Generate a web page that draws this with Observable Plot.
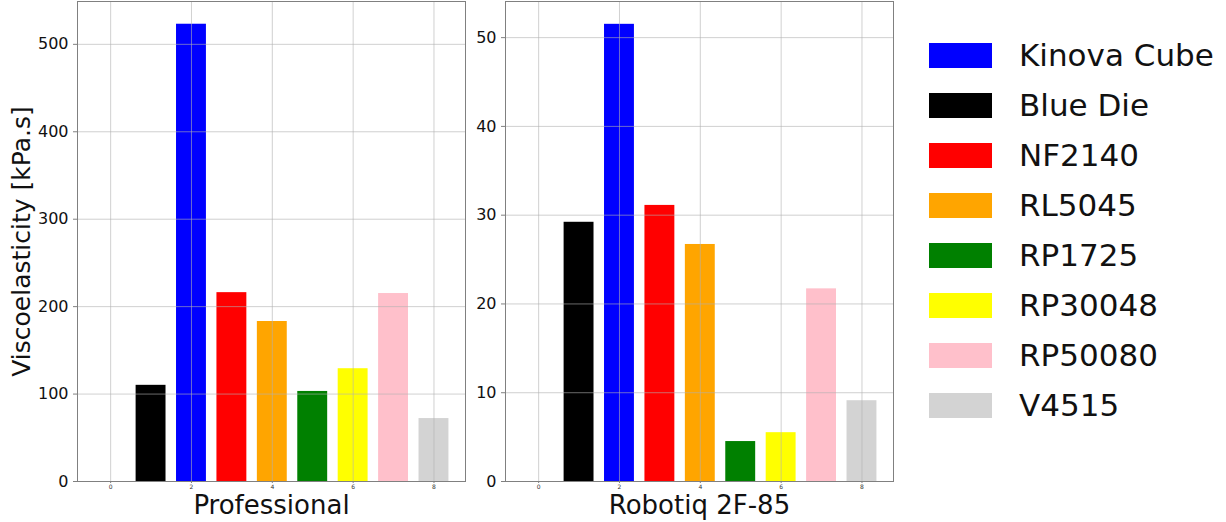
<!DOCTYPE html>
<html>
<head>
<meta charset="utf-8">
<script src="https://cdn.jsdelivr.net/npm/d3@7"></script>
<script src="https://cdn.jsdelivr.net/npm/@observablehq/plot@0.6"></script>
<style>
  html, body { margin: 0; padding: 0; background: white; }
  #fig { position: relative; width: 1226px; height: 522px; font-family: "DejaVu Sans", sans-serif; overflow: hidden; }
  .panel { position: absolute; top: 0; }
  #legend { position: absolute; left: 929px; top: 30px; }
  .row { display: flex; align-items: center; height: 50px; }
  .sw { width: 63px; height: 25px; margin-right: 27px; }
  .lab { font-size: 31px; color: #111; white-space: nowrap; }
</style>
</head>
<body>
<div id="fig">
  <div id="left" class="panel" style="left:0px"></div>
  <div id="right" class="panel" style="left:480px"></div>
  <div id="legend"></div>
</div>
<script>
// Bar order on the x axis (positions 1..8)
const materials = ["Blue Die", "Kinova Cube", "NF2140", "RL5045", "RP1725", "RP30048", "RP50080", "V4515"];
const colors    = ["black", "blue", "red", "orange", "green", "yellow", "pink", "lightgray"];
const positions = [1, 2, 3, 4, 5, 6, 7, 8];
// Viscoelasticity [kPa.s]
const professionalValues = [110, 523, 216, 183, 103, 129, 215, 72];
const robotiqValues      = [29.2, 51.5, 31.1, 26.7, 4.5, 5.5, 21.7, 9.1];
// Legend order
const legendOrder = ["Kinova Cube", "Blue Die", "NF2140", "RL5045", "RP1725", "RP30048", "RP50080", "V4515"];
// Tick labels
const xTicks = [0, 2, 4, 6, 8];
const profYTicks = [0, 100, 200, 300, 400, 500];
const robYTicks = [0, 10, 20, 30, 40, 50];

const barWidth = 0.74;

function rowsFor(values) {
  return materials.map((m, i) => ({material: m, pos: positions[i], value: values[i], color: colors[i]}));
}

function panel({values, yMax, yTicks, title, width, marginLeft, marginRight, ylabel}) {
  const rows = rowsFor(values);
  const marks = [
    Plot.rectY(rows, {x1: d => d.pos - barWidth / 2, x2: d => d.pos + barWidth / 2, y1: 0, y2: "value", fill: "color"}),
    Plot.gridX(xTicks, {stroke: "#b0b0b0", strokeOpacity: 0.6}),
    Plot.gridY(yTicks, {stroke: "#b0b0b0", strokeOpacity: 0.6}),
    Plot.frame({stroke: "#808080"}),
    Plot.axisX(xTicks, {fontSize: 6, tickSize: 2, tickPadding: 1.5, label: null, stroke: "#808080", fill: "#333"}),
    Plot.axisY(yTicks, {fontSize: 16, tickSize: 4, label: null, stroke: "#808080", fill: "#111"}),
    Plot.text([title], {text: d => d, frameAnchor: "bottom", lineAnchor: "middle", textAnchor: "middle", dy: 24, fontSize: 26, fill: "#111"})
  ];
  if (ylabel) {
    marks.push(Plot.text([ylabel], {text: d => d, frameAnchor: "left", lineAnchor: "middle", textAnchor: "middle", rotate: -90, dx: -56, fontSize: 25, fill: "#111"}));
  }
  return Plot.plot({
    width, height: 522,
    marginLeft, marginRight, marginTop: 1, marginBottom: 41,
    x: {domain: [-0.82, 8.78]},
    y: {domain: [0, yMax]},
    color: {type: "identity"},
    style: {fontFamily: "DejaVu Sans", background: "white", overflow: "visible"},
    marks
  });
}

document.getElementById("left").appendChild(panel({
  values: professionalValues, yMax: 549, yTicks: profYTicks, title: "Professional",
  width: 480, marginLeft: 77, marginRight: 15, ylabel: "Viscoelasticity [kPa.s]"
}));
document.getElementById("right").appendChild(panel({
  values: robotiqValues, yMax: 54.07, yTicks: robYTicks, title: "Robotiq 2F-85",
  width: 420, marginLeft: 25, marginRight: 7
}));

const legend = document.getElementById("legend");
for (const name of legendOrder) {
  const c = colors[materials.indexOf(name)];
  const row = document.createElement("div");
  row.className = "row";
  const sw = document.createElement("div");
  sw.className = "sw";
  sw.style.background = c;
  const lab = document.createElement("div");
  lab.className = "lab";
  lab.textContent = name;
  row.appendChild(sw);
  row.appendChild(lab);
  legend.appendChild(row);
}
</script>
</body>
</html>
